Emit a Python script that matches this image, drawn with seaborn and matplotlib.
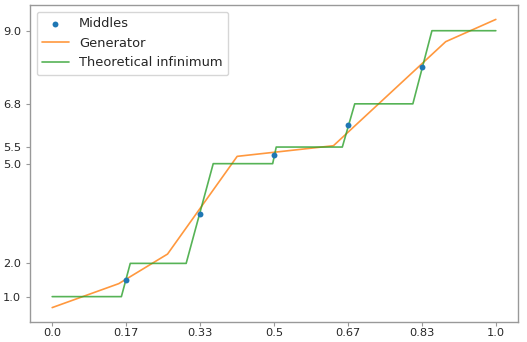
import numpy as np
import pandas as pd
import matplotlib
matplotlib.use("Agg")
import matplotlib.pyplot as plt
import seaborn as sns

# Orta noktalar
mid_x = [1/6, 2/6, 3/6, 4/6, 5/6]
mid_y = [1.5, 3.5, 5.25, 6.15, 7.9]

# Üreteç (parçalı doğrusal)
gen_x = [0.0, 0.150, 0.260, 0.417, 0.634, 0.887, 1.0]
gen_y = [0.67, 1.39, 2.28, 5.22, 5.54, 8.67, 9.34]

# Teorik infimum (basamak)
inf_x = [0.0, 0.156, 0.176, 0.302, 0.363, 0.497, 0.505, 0.654, 0.682, 0.813, 0.856, 1.0]
inf_y = [1.0, 1.0, 2.0, 2.0, 5.0, 5.0, 5.5, 5.5, 6.8, 6.8, 9.0, 9.0]

# Eksen etiketleri
xticks = [0.0, 1/6, 2/6, 3/6, 4/6, 5/6, 1.0]
xtick_labels = ["0.0", "0.17", "0.33", "0.5", "0.67", "0.83", "1.0"]
yticks = [1.0, 2.0, 5.0, 5.5, 6.8, 9.0]
ytick_labels = ["1.0", "2.0", "5.0", "5.5", "6.8", "9.0"]

sns.set_style("ticks")
plt.rcParams['font.family'] = ['DejaVu Sans']

fig = plt.figure(figsize=(5.27, 3.42), dpi=100)
ax = fig.add_axes([30/527, 1 - 322/342, 488/527, 317/342])

pal = sns.color_palette("tab10")
sns.scatterplot(x=mid_x, y=mid_y, ax=ax, color=pal[0], s=18, edgecolor=pal[0],
                linewidth=0, label="Middles", zorder=3)
sns.lineplot(x=gen_x, y=gen_y, ax=ax, color=pal[1], lw=1.2, alpha=0.8,
             sort=False, label="Generator")
sns.lineplot(x=inf_x, y=inf_y, ax=ax, color=pal[2], lw=1.2, alpha=0.8,
             sort=False, label="Theoretical infinimum")

ax.set_xticks(xticks)
ax.set_xticklabels(xtick_labels)
ax.set_yticks(yticks)
ax.set_yticklabels(ytick_labels)
ax.margins(x=0.05, y=0.05)

for sp in ax.spines.values():
    sp.set_color("#999999")
    sp.set_linewidth(1.0)
ax.tick_params(colors="#999999", labelcolor="#262626", labelsize=8.2,
               length=3, width=0.8)
ax.tick_params(axis="x", pad=1.5)

ax.legend(loc="upper left", fontsize=9.4, frameon=True, handlelength=2.0,
          borderpad=0.45, labelspacing=0.5)

fig.savefig("out.png", dpi=100)
